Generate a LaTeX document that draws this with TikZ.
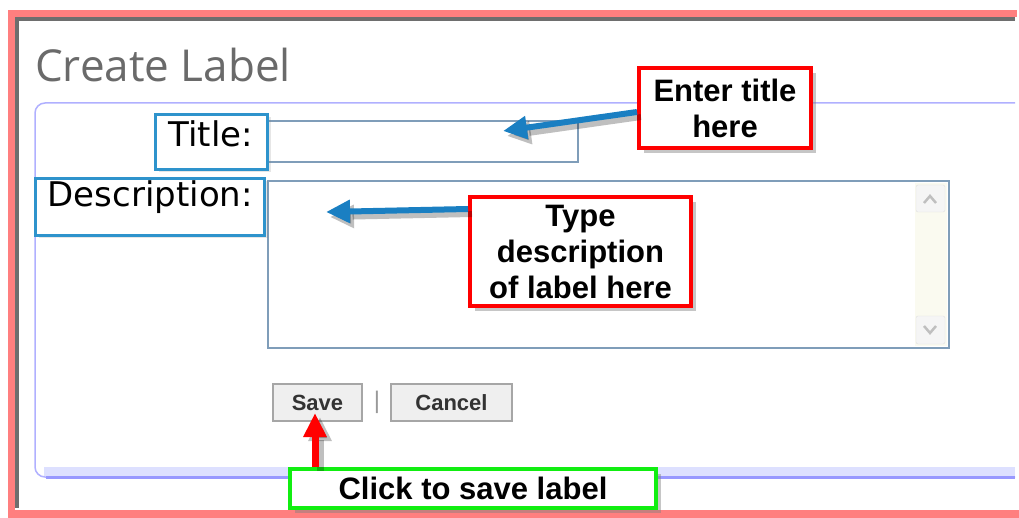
\documentclass[tikz,border=0pt]{standalone}
\usepackage{fontspec}
\usetikzlibrary{positioning,shadows,arrows.meta}
\newfontfamily\calloutfont{Liberation Sans}
\newfontfamily\formfont{DejaVu Sans}
\newfontfamily\headfont{Open Sans}
\definecolor{framered}{HTML}{FF7F7F}
\definecolor{framegray}{HTML}{6E6E6E}
\definecolor{panelline}{HTML}{B0B0FF}
\definecolor{paneldark}{HTML}{9898FF}
\definecolor{panelband}{HTML}{DDE0FF}
\definecolor{fieldline}{HTML}{7F9DB9}
\definecolor{pointblue}{HTML}{1A7FC2}
\definecolor{tagblue}{HTML}{2E93CC}
\definecolor{calloutred}{HTML}{FF0000}
\definecolor{calloutgreen}{HTML}{11EE11}
\definecolor{btnfill}{HTML}{EFEFEF}
\definecolor{btnline}{HTML}{A6A6A6}
\definecolor{trackfill}{HTML}{FAFAF0}
\definecolor{headgray}{HTML}{6A6A6A}
\tikzset{
  callout/.style={draw=calloutred,line width=4pt,fill=white,align=center,inner sep=0pt,
    font=\calloutfont\bfseries\fontsize{31}{36}\selectfont,
    drop shadow={shadow xshift=5pt,shadow yshift=-5pt,opacity=.45}},
  fieldtag/.style={draw=tagblue,line width=3pt,fill=white,inner sep=0pt,
    drop shadow={shadow xshift=3pt,shadow yshift=-3pt,opacity=.2}},
  formtext/.style={inner sep=0pt,font=\formfont\fontsize{34}{40}\selectfont},
  btn/.style={draw=btnline,line width=2pt,fill=btnfill,inner sep=0pt,minimum height=37pt,
    text=black!80,font=\calloutfont\bfseries\fontsize{22}{26}\selectfont},
  pointer/.style={pointblue,line width=6pt,-{Triangle[length=24pt,width=22pt]}},
  pointshadow/.style={black,opacity=.25,line width=6pt,-{Triangle[length=24pt,width=22pt]}},
}
\begin{document}
\begin{tikzpicture}[x=1pt,y=-1pt]
\useasboundingbox (0,0) rectangle (1019,518);
% frame
\fill[framered] (8,10) rectangle (1017,17);
\fill[framered] (8,10) rectangle (15,518);
\fill[framered] (8,510) rectangle (1019,518);
\fill[framegray] (15,17) rectangle (1015,21);
\fill[framegray] (15,17) rectangle (19,508);
% panel
\draw[panelline,line width=1.5pt,rounded corners=10pt] (1015,103) -- (35,103) -- (35,477) -- (1015,477);
\fill[panelband] (44,467) rectangle (1015,475.5);
\draw[paneldark,line width=3pt] (46,477) -- (1015,477);
\node[anchor=base west,inner sep=0pt,text=headgray,font=\headfont\fontsize{44}{50}\selectfont] (heading) at (35,82) {Create Label};
% fields
\draw[fieldline,line width=1.2pt] (268,121) rectangle (578,162);
\draw[fieldline,line width=1.5pt] (268,181) rectangle (949,348);
\fill[trackfill] (915,183) rectangle (947,346);
\draw[black!12,fill=black!4,rounded corners=2pt] (916,185) rectangle (945,212);
\draw[black!12,fill=black!4,rounded corners=2pt] (916,316) rectangle (945,344);
\draw[black!25,line width=2.5pt] (924,203) -- (930,196) -- (936,203);
\draw[black!25,line width=2.5pt] (924,326) -- (930,333) -- (936,326);
% field tags
\node[fieldtag,minimum width=112pt,minimum height=55pt] (titletag) at (211.5,142) {};
\node[formtext,anchor=base east] (titletext) at (253,147) {Title:};
\node[fieldtag,minimum width=229pt,minimum height=57pt] (desctag) at (150,207) {};
\node[formtext,anchor=base east] (desctext) at (253,207) {Description:};
% buttons
\node[btn,minimum width=89pt] (savebtn) at (317.5,402.5) {Save};
\node[inner sep=0pt,text=black!40,font=\calloutfont\fontsize{24}{28}\selectfont] (sep) at (377,402) {|};
\node[btn,minimum width=121pt] (cancelbtn) at (451.5,402.5) {Cancel};
% callouts
\coordinate (titletip) at (503,131);
\coordinate (desctip) at (326,212);
\coordinate (savetip) at (315,413);
\node[callout,minimum width=172pt,minimum height=80pt] (entercall) at (725,108) {Enter title\\here};
\node[callout,minimum width=221pt,minimum height=109pt] (typecall) at (580.5,251.5) {Type\\description\\of label here};
\node[callout,draw=calloutgreen,minimum width=366pt,minimum height=39pt] (savecall) at (473,488.5) {Click to save label};
\draw[pointshadow] ([shift={(4pt,-5pt)}]entercall.west |- 0,112) -- ([shift={(4pt,-5pt)}]titletip);
\draw[pointer] (entercall.west |- 0,112) -- (titletip);
\draw[pointshadow] ([shift={(4pt,-5pt)}]typecall.west |- 0,209) -- ([shift={(4pt,-5pt)}]desctip);
\draw[pointer] (typecall.west |- 0,209) -- (desctip);
\draw[pointshadow,line width=7pt] ([shift={(5pt,-4pt)}]savecall.north -| savetip) -- ([shift={(5pt,-4pt)}]savetip);
\draw[pointer,calloutred,line width=7pt] (savecall.north -| savetip) -- (savetip);
\end{tikzpicture}
\end{document}
